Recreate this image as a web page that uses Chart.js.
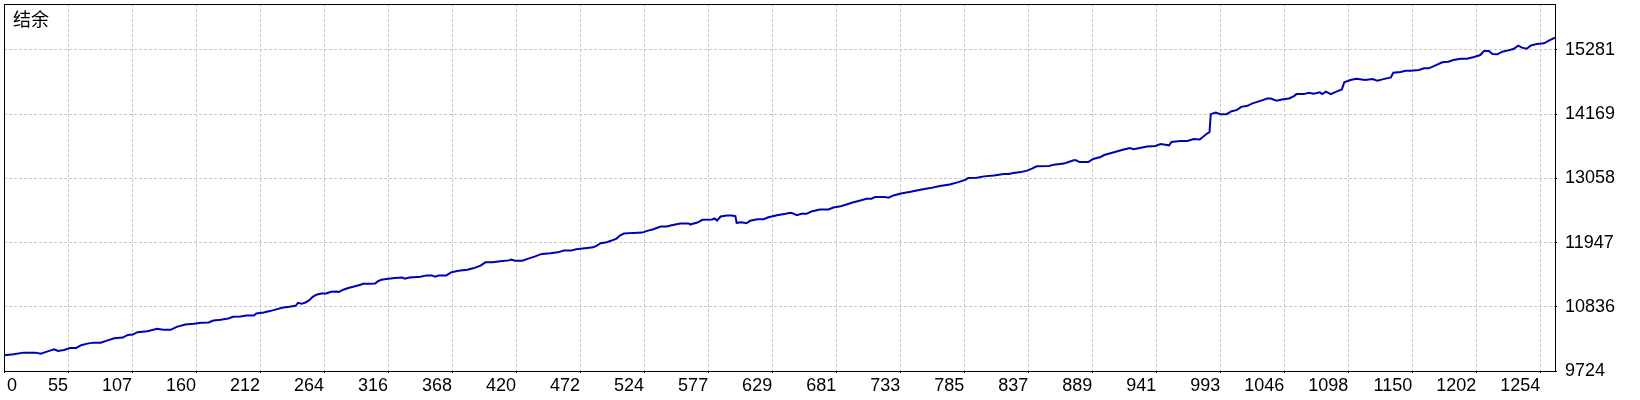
<!DOCTYPE html>
<html lang="zh">
<head>
<meta charset="utf-8">
<title>结余</title>
<script src="https://cdn.jsdelivr.net/npm/chart.js@4.4.1/dist/chart.umd.min.js"></script>
<style>
  html, body { margin: 0; padding: 0; background: #fff; }
  canvas { display: block; }
</style>
</head>
<body>
<canvas id="balanceChart" width="1640" height="400"></canvas>
<script>
//====================================
// DATOS
//====================================
const tituloGrafico = '结余';

// Etiquetas del eje X (número de operación)
const xTickLabels = ['0', '55', '107', '160', '212', '264', '316', '368', '420', '472', '524', '577', '629',
    '681', '733', '785', '837', '889', '941', '993', '1046', '1098', '1150', '1202', '1254'];
const xUltimaEtiqueta = 1254;
const xMax = 1266;

// Etiquetas del eje Y (balance)
const yTickLabels = [9724, 10836, 11947, 13058, 14169, 15281];
const yMax = 16077;

// Serie: número de operación y balance
const operaciones = [
    0, 8, 16, 26, 30, 35, 41, 44, 49, 54, 59, 63, 68, 73, 79, 84, 90, 97, 101, 105,
    109, 117, 125, 131, 136, 141, 148, 155, 161, 167, 171, 177, 183, 187, 193, 198, 204, 206, 212, 217,
    223, 228, 233, 238, 240, 243, 246, 249, 252, 255, 259, 263, 267, 272, 273, 277, 281, 285, 291, 293,
    297, 303, 305, 308, 312, 319, 325, 327, 331, 340, 345, 349, 352, 355, 361, 365, 371, 378, 383, 389,
    393, 399, 405, 412, 414, 417, 423, 428, 433, 439, 446, 452, 457, 463, 467, 476, 481, 484, 487, 492,
    496, 500, 503, 506, 514, 521, 525, 530, 536, 541, 545, 552, 559, 560, 566, 570, 578, 580, 582, 585,
    590, 594, 597, 598, 602, 606, 609, 615, 620, 624, 631, 638, 642, 644, 647, 651, 655, 659, 666, 673,
    677, 683, 687, 692, 699, 704, 708, 711, 719, 722, 726, 732, 740, 748, 756, 764, 772, 779, 785, 787,
    794, 800, 808, 816, 820, 824, 830, 835, 839, 843, 853, 857, 865, 869, 873, 875, 878, 885, 889, 895,
    898, 914, 919, 922, 927, 933, 940, 944, 948, 951, 953, 960, 966, 971, 976, 982, 984, 985, 989, 993,
    998, 1002, 1006, 1010, 1015, 1019, 1023, 1028, 1031, 1034, 1036, 1039, 1043, 1049, 1053, 1055, 1061, 1065, 1069, 1074,
    1076, 1079, 1083, 1088, 1092, 1094, 1099, 1104, 1111, 1117, 1121, 1126, 1132, 1134, 1140, 1144, 1148, 1155, 1159, 1163,
    1168, 1174, 1179, 1183, 1189, 1194, 1200, 1205, 1208, 1212, 1215, 1219, 1223, 1227, 1232, 1236, 1239, 1243, 1246, 1251,
    1257, 1261, 1266
];
const balance = [
    9997, 10014, 10042, 10042, 10024, 10059, 10101, 10071, 10089, 10123, 10123, 10170, 10198, 10215, 10215, 10250, 10292, 10302, 10349, 10355,
    10396, 10413, 10453, 10436, 10436, 10488, 10528, 10540, 10558, 10563, 10598, 10610, 10632, 10662, 10667, 10684, 10684, 10719, 10736, 10761,
    10795, 10823, 10835, 10853, 10905, 10887, 10910, 10945, 11009, 11044, 11066, 11066, 11096, 11101, 11090, 11131, 11160, 11183, 11217, 11235,
    11235, 11240, 11275, 11304, 11316, 11334, 11344, 11322, 11344, 11356, 11379, 11379, 11356, 11379, 11379, 11431, 11461, 11478, 11501, 11547,
    11605, 11605, 11622, 11639, 11652, 11634, 11634, 11669, 11704, 11751, 11761, 11778, 11808, 11808, 11831, 11855, 11865, 11895, 11935, 11952,
    11982, 12016, 12074, 12103, 12115, 12120, 12150, 12178, 12225, 12225, 12247, 12277, 12277, 12259, 12294, 12341, 12346, 12364, 12329, 12398,
    12416, 12416, 12404, 12289, 12299, 12281, 12324, 12351, 12351, 12386, 12421, 12445, 12463, 12451, 12421, 12445, 12445, 12485, 12520, 12520,
    12555, 12577, 12602, 12636, 12676, 12706, 12706, 12734, 12734, 12723, 12763, 12798, 12827, 12862, 12890, 12925, 12954, 12994, 13036, 13064,
    13070, 13093, 13110, 13133, 13133, 13150, 13167, 13192, 13227, 13267, 13273, 13296, 13314, 13341, 13371, 13371, 13341, 13341, 13394, 13428,
    13463, 13557, 13584, 13562, 13584, 13609, 13619, 13654, 13642, 13631, 13689, 13706, 13706, 13741, 13730, 13834, 13857, 14170, 14199, 14170,
    14170, 14222, 14239, 14297, 14314, 14356, 14383, 14418, 14442, 14442, 14424, 14401, 14424, 14442, 14482, 14517, 14517, 14540, 14523, 14547,
    14517, 14560, 14517, 14564, 14599, 14720, 14760, 14783, 14760, 14777, 14748, 14777, 14807, 14887, 14899, 14922, 14922, 14934, 14963, 14963,
    15009, 15067, 15079, 15107, 15130, 15130, 15160, 15194, 15264, 15264, 15212, 15206, 15252, 15270, 15298, 15356, 15321, 15304, 15356, 15385,
    15397, 15443, 15495
];

//====================================
// GRAFICO DE BALANCE
//====================================
document.addEventListener('DOMContentLoaded', function () {
    const ctxBalance = document.getElementById('balanceChart');
    if (!ctxBalance) {
        console.error('No se encontró el canvas del gráfico.');
        return;
    }

    const fuenteEjes = '18px "Liberation Sans", Arial, sans-serif';

    // Marco, título y etiquetas del eje X (la primera va a la izquierda)
    const marcoPlugin = {
        id: 'marco',
        afterDraw(chart) {
            const { ctx, chartArea: a, scales: { x } } = chart;
            ctx.save();

            ctx.strokeStyle = '#000';
            ctx.lineWidth = 1;
            ctx.setLineDash([]);
            ctx.strokeRect(a.left + 0.5, a.top + 0.5, a.right - a.left, a.bottom - a.top);

            ctx.fillStyle = '#000';
            ctx.font = '18px "Noto Sans CJK SC", sans-serif';
            ctx.textBaseline = 'top';
            ctx.textAlign = 'left';
            ctx.fillText(tituloGrafico, a.left + 9, a.top + 6);

            ctx.font = fuenteEjes;
            ctx.textBaseline = 'middle';
            x.ticks.forEach((tick, i) => {
                const px = x.getPixelForValue(tick.value);
                if (i === 0) {
                    ctx.textAlign = 'left';
                    ctx.fillText(xTickLabels[i], px + 3, a.bottom + 15);
                } else {
                    ctx.textAlign = 'right';
                    ctx.fillText(xTickLabels[i], px, a.bottom + 15);
                }
            });
            ctx.restore();
        }
    };

    const dataBalance = {
        datasets: [{
            label: tituloGrafico,
            data: operaciones.map((op, i) => ({ x: op, y: balance[i] })),
            borderColor: '#0000b4',
            borderWidth: 2,
            pointRadius: 0,
            tension: 0,
            fill: false
        }]
    };

    const configBalance = {
        type: 'line',
        data: dataBalance,
        options: {
            responsive: false,
            animation: false,
            layout: { padding: { left: 4, top: 4, right: 0, bottom: 0 } },
            plugins: {
                legend: { display: false },
                tooltip: { enabled: false },
                title: { display: false }
            },
            scales: {
                x: {
                    type: 'linear',
                    min: 0,
                    max: xMax,
                    afterFit: (scale) => {
                        scale.height = 29;
                        scale.paddingLeft = 0;
                        scale.paddingRight = 0;
                    },
                    afterBuildTicks: (scale) => {
                        const paso = xUltimaEtiqueta / (xTickLabels.length - 1);
                        scale.ticks = xTickLabels.map((_, i) => ({ value: i * paso }));
                    },
                    ticks: { display: false },
                    grid: {
                        color: '#c8c8c8',
                        lineWidth: 1,
                        drawTicks: true,
                        tickLength: 2,
                        tickColor: '#000'
                    },
                    border: { display: false, dash: [3, 2] }
                },
                y: {
                    type: 'linear',
                    position: 'right',
                    min: yTickLabels[0],
                    max: yMax,
                    afterFit: (scale) => {
                        scale.width = 85;
                        scale.paddingTop = 0;
                        scale.paddingBottom = 0;
                    },
                    afterBuildTicks: (scale) => {
                        scale.ticks = yTickLabels.map((v) => ({ value: v }));
                    },
                    ticks: {
                        color: '#000',
                        font: { family: '"Liberation Sans", Arial, sans-serif', size: 18 },
                        padding: 8,
                        crossAlign: 'near',
                        callback: (value) => String(value)
                    },
                    grid: {
                        color: '#c8c8c8',
                        lineWidth: 1,
                        drawTicks: true,
                        tickLength: 2,
                        tickColor: '#000'
                    },
                    border: { display: false, dash: [3, 2] }
                }
            }
        },
        plugins: [marcoPlugin]
    };

    new Chart(ctxBalance, configBalance);
});
</script>
</body>
</html>
